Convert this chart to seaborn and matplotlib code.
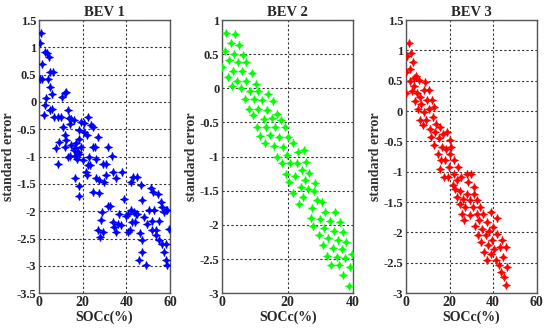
import numpy as np
import pandas as pd
import matplotlib
matplotlib.use("Agg")
import matplotlib.pyplot as plt
import seaborn as sns

sns.set_style("white")
plt.rcParams['font.family'] = ['Liberation Serif', 'DejaVu Serif']
plt.rcParams['font.weight'] = 'bold'
plt.rcParams['axes.unicode_minus'] = False

bev1_x = [0.8, 0.3, 1.5, 2.6, 3.6, 4.6, 0.3, 1.4, 4.1, 5.2, 6.4, 5.2, 6.1, 3.3, 2.6, 2.3, 4.9, 5.9, 6.8,
          8.7, 9.9, 10.6, 11.7, 12.2, 10.9, 11.7, 13.2, 13.7, 14.0, 14.7, 15.8, 7.9, 9.1, 8.7, 11.7, 12.5,
          14.0, 13.2, 14.7, 15.8, 16.3, 17.0, 17.8, 17.3, 16.7, 18.2, 19.3, 20.8, 22.3, 23.9, 24.6, 20.8,
          21.9, 18.5, 19.3, 18.1, 20.1, 22.8, 23.4, 22.3, 24.6, 25.5, 26.1, 26.9, 21.3, 21.9, 16.3, 18.5,
          18.2, 24.9, 26.1, 27.4, 29.2, 30.7, 31.5, 33.4, 30.7, 29.9, 33.7, 35.3, 31.5, 32.7, 27.7, 28.9,
          28.4, 26.9, 27.9, 29.2, 33.7, 34.4, 35.5, 36.0, 36.8, 38.0, 39.1, 39.8, 41.0, 37.5, 40.6, 41.6,
          42.6, 42.1, 43.6, 44.4, 42.1, 43.2, 44.7, 45.1, 44.1, 46.2, 46.7, 47.4, 48.2, 47.4, 47.4, 45.9,
          48.9, 49.7, 50.5, 51.2, 52.3, 52.7, 51.7, 52.0, 53.5, 53.8, 54.3, 55.0, 55.8, 56.5, 57.3, 55.0,
          56.5, 58.1, 57.3, 58.1, 58.8, 59.6, 58.8, 58.1]
bev1_y = [1.26, 1.08, 0.7, 0.92, 0.89, 0.83, 0.42, 0.42, 0.42, 0.55, 0.55, 0.28, 0.14, 0.08, -0.06, -0.23,
          -0.15, -0.12, -0.27, -0.28, -0.27, 0.1, 0.16, 0.19, -0.46, -0.61, -0.15, -0.3, -0.4, -0.32, -0.33,
          -0.85, -0.73, -1.13, -0.82, -0.69, -0.98, -1.0, -0.79, -0.87, -0.98, -0.76, -0.91, -1.04, -0.85,
          -0.52, -0.36, -0.39, -0.27, -0.43, -0.46, -0.55, -0.61, -0.67, -0.82, -0.96, -1.07, -1.01, -1.16,
          -1.16, -0.82, -0.82, -1.04, -0.64, -1.28, -1.34, -1.39, -1.54, -1.72, -1.65, -1.4, -1.43, -1.13,
          -1.13, -0.82, -0.98, -1.34, -1.46, -1.28, -1.4, -1.9, -1.91, -1.66, -2.01, -2.16, -2.35, -2.47,
          -2.38, -2.2, -2.29, -2.38, -2.23, -2.05, -1.28, -1.77, -2.08, -2.05, -2.26, -2.38, -2.35, -2.2,
          -1.98, -2.01, -2.05, -1.46, -1.37, -1.37, -2.05, -2.2, -2.4, -1.52, -1.8, -2.11, -2.53, -2.75,
          -2.9, -2.99, -2.23, -1.98, -1.58, -1.65, -1.98, -2.17, -2.34, -2.35, -2.44, -1.68, -2.17, -1.83,
          -1.92, -2.01, -2.53, -2.6, -2.6, -2.75, -2.9, -2.99, -2.32, -1.98, -1.98]

bev2_x = [1.1, 0.8, 0.0, 2.1, 2.6, 1.8, 2.9, 3.9, 3.6, 3.4, 4.4, 5.2, 4.9, 5.9, 5.6, 6.4, 7.4, 7.2, 6.9,
          8.5, 9.0, 8.3, 9.3, 9.7, 10.3, 11.0, 10.5, 11.0, 12.3, 11.7, 12.8, 13.1, 13.4, 13.8, 14.1, 14.6,
          15.1, 15.6, 15.8, 16.1, 16.6, 16.8, 17.4, 17.9, 18.2, 18.7, 19.2, 19.5, 19.7, 20.2, 20.5, 20.7,
          21.5, 21.7, 22.2, 22.8, 23.3, 23.6, 24.0, 24.3, 25.0, 24.6, 25.3, 25.6, 26.3, 26.6, 27.0, 27.3,
          27.7, 27.9, 28.4, 29.1, 29.7, 29.9, 30.4, 30.7, 31.1, 31.4, 31.9, 32.4, 32.9, 33.2, 33.8, 34.2,
          34.5, 35.0, 35.5, 35.8, 36.0, 36.5, 36.8, 37.0, 37.6, 37.9, 38.6, 39.1, 39.6]
bev2_y = [0.81, 0.55, 0.31, 0.41, 0.67, 0.16, 0.03, 0.79, 0.51, 0.26, 0.11, 0.63, 0.38, 0.26, 0.0, 0.49,
          0.38, 0.11, -0.15, -0.04, 0.23, -0.3, -0.39, -0.15, 0.07, -0.04, -0.56, -0.3, -0.17, -0.7, -0.45,
          -0.8, -0.56, -0.32, -0.09, -0.69, -0.44, -0.18, -0.85, -0.56, -0.38, -1.0, -0.72, -0.46, -1.09,
          -0.86, -0.56, -1.25, -0.98, -0.72, -1.37, -1.09, -0.8, -1.53, -1.29, -1.09, -0.93, -1.7, -1.44,
          -1.19, -0.91, -1.59, -1.35, -1.08, -1.48, -1.24, -1.9, -1.75, -2.01, -1.51, -1.38, -1.63, -2.15,
          -1.91, -1.66, -2.3, -2.05, -1.81, -2.45, -2.19, -1.94, -2.59, -2.34, -2.09, -1.81, -2.47, -2.22,
          -2.59, -1.96, -2.35, -2.11, -2.74, -2.49, -2.25, -2.89, -2.62, -2.42]

bev3_x = [1.2, 0.5, 2.3, 0.0, 1.7, 3.2, 0.2, 1.7, 2.8, 3.8, 4.8, 5.8, 3.8, 4.3, 5.1, 5.4, 6.3, 6.6, 6.9,
          7.8, 8.1, 8.1, 8.9, 9.7, 9.4, 10.4, 10.4, 11.2, 11.5, 12.0, 12.4, 12.7, 13.0, 13.5, 14.0, 14.6,
          15.0, 15.5, 15.8, 16.1, 16.6, 17.0, 17.6, 18.1, 18.6, 18.9, 19.2, 19.6, 20.1, 20.4, 20.7, 21.6,
          21.9, 22.2, 22.7, 23.2, 23.5, 23.8, 24.7, 25.0, 25.3, 25.8, 26.2, 26.8, 27.3, 27.8, 28.1, 28.4,
          29.3, 29.6, 29.9, 30.8, 31.1, 31.4, 31.9, 32.4, 32.7, 33.0, 33.4, 33.9, 34.5, 35.0, 35.4, 36.0,
          36.5, 37.0, 37.3, 37.6, 38.0, 38.8, 39.1, 39.6, 40.0, 40.6, 41.1, 41.6, 41.9, 42.6, 43.1, 43.4,
          44.2, 44.6, 44.9, 45.7, 46.5, 45.7]
bev3_y = [1.12, 0.9, 0.96, 0.65, 0.7, 0.81, 0.3, 0.49, 0.33, 0.55, 0.58, 0.52, 0.41, 0.17, 0.29, 0.03,
          0.23, -0.14, 0.12, -0.23, 0.34, -0.01, 0.48, 0.18, -0.15, 0.04, 0.34, -0.29, -0.43, 0.19, -0.1,
          0.07, -0.56, -0.34, -0.21, -0.7, -0.45, -0.26, -0.95, -0.81, -0.59, -0.37, -1.09, -0.81, -0.62,
          -0.34, -1.09, -0.92, -0.7, -0.48, -0.59, -1.22, -1.03, -0.81, -1.28, -1.42, -1.14, -0.92, -1.53,
          -1.31, -1.09, -1.69, -1.45, -1.8, -1.58, -1.36, -1.03, -1.17, -1.72, -1.47, -1.03, -1.58, -1.25,
          -1.36, -1.9, -1.69, -1.47, -2.05, -1.8, -1.58, -2.16, -1.94, -1.69, -2.32, -2.05, -1.83, -2.46,
          -2.21, -1.97, -1.66, -2.35, -2.13, -1.91, -2.27, -2.46, -2.02, -1.77, -2.54, -2.24, -2.65, -2.13,
          -2.41, -2.74, -2.24, -2.57, -2.86]

titles = ["BEV 1", "BEV 2", "BEV 3"]
colors = ["#0000ff", "#00ff00", "#ff0000"]
xlims = [(0, 60), (0, 40), (0, 60)]
xticks = [[0, 20, 40, 60], [0, 20, 40], [0, 20, 40, 60]]
ylims = [(-3.5, 1.5), (-3, 1), (-3, 1.5)]
yticks = [[1.5, 1, 0.5, 0, -0.5, -1, -1.5, -2, -2.5, -3, -3.5],
          [1, 0.5, 0, -0.5, -1, -1.5, -2, -2.5, -3],
          [1.5, 1, 0.5, 0, -0.5, -1, -1.5, -2, -2.5, -3]]
xs = [bev1_x, bev2_x, bev3_x]
ys = [bev1_y, bev2_y, bev3_y]

fig = plt.figure(figsize=(5.5, 3.29), dpi=100)
lefts = [0.071, 0.404, 0.738]
width = 0.238
bottom, top = 0.109, 0.939

def fmt(v):
    return "%g" % v

for i in range(3):
    ax = fig.add_axes([lefts[i], bottom, width, top - bottom])
    df = pd.DataFrame({"SOCc": xs[i], "err": ys[i]})
    sns.scatterplot(data=df, x="SOCc", y="err", ax=ax, marker=(4, 1, 0), s=30,
                    color=colors[i], edgecolor=colors[i], linewidth=0.3, zorder=3)
    sns.scatterplot(data=df, x="SOCc", y="err", ax=ax, marker='+', s=40,
                    color=colors[i], linewidth=0.9, zorder=3)
    ax.set_xlim(*xlims[i])
    ax.set_ylim(*ylims[i])
    ax.set_xticks(xticks[i])
    ax.set_yticks(yticks[i])
    ax.set_xticklabels([fmt(v) for v in xticks[i]], fontsize=10, fontweight='bold')
    ax.set_yticklabels([fmt(v) for v in yticks[i]], fontsize=9, fontweight='bold')
    ax.grid(True, color='#333333', linestyle=(0, (2, 2)), linewidth=0.8)
    ax.set_axisbelow(True)
    for sp in ax.spines.values():
        sp.set_color('#555555')
        sp.set_linewidth(1.0)
    ax.tick_params(axis='both', length=0, pad=2)
    ax.set_title(titles[i], fontsize=10.5, fontweight='bold', pad=3)
    ax.set_xlabel("SOCc(%)", fontsize=10, fontweight='bold', labelpad=1)
    ax.set_ylabel("standard error", fontsize=10, fontweight='bold', labelpad=1, color='#333333')

fig.savefig("out.png", dpi=100)
